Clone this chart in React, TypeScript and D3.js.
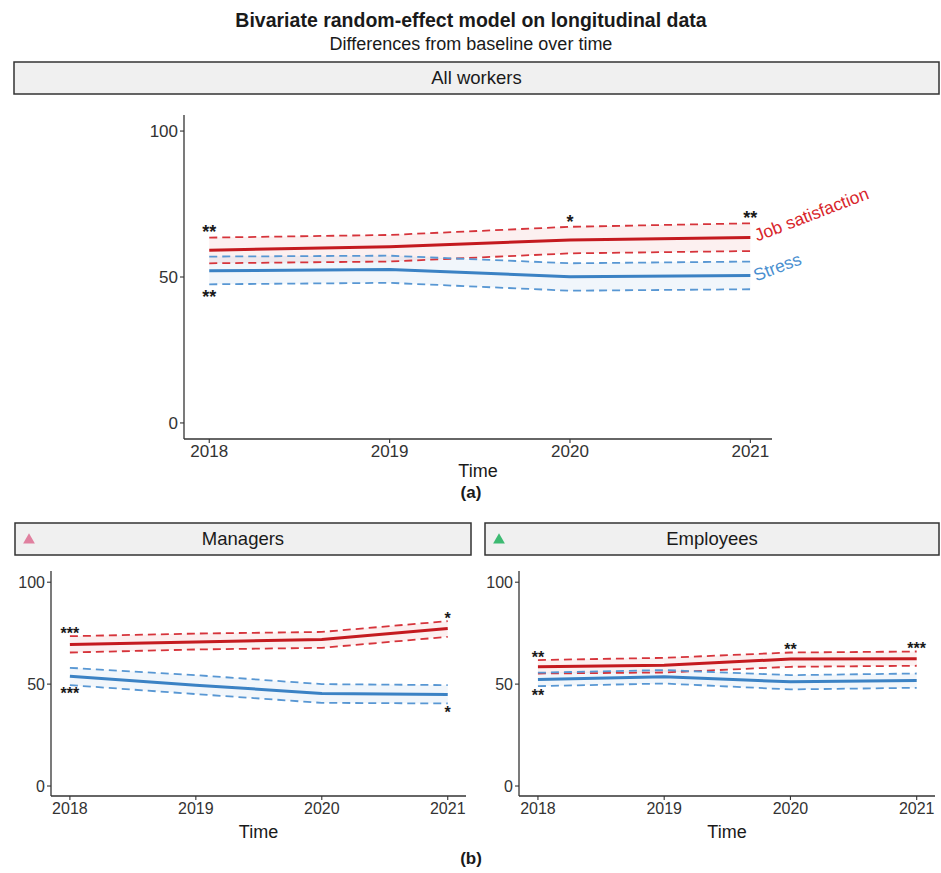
import React from "react";
import * as d3 from "d3";

const years = [2018, 2019, 2020, 2021];
const yTicks = [0, 50, 100];

// All workers
const allJob = [59.2, 60.4, 62.7, 63.5];
const allJobLo = [54.7, 55.3, 58.1, 58.9];
const allJobHi = [63.5, 64.4, 67.2, 68.4];
const allStress = [52.1, 52.6, 50.1, 50.5];
const allStressLo = [47.5, 48.0, 45.3, 45.8];
const allStressHi = [57.0, 57.3, 54.7, 55.3];
const allJobSig = ["**", "", "*", "**"];
const allStressSig = ["**", "", "", ""];

// Managers
const mgrJob = [69.4, 70.7, 71.9, 77.3];
const mgrJobLo = [65.5, 67.0, 67.8, 73.2];
const mgrJobHi = [73.5, 74.8, 75.6, 80.9];
const mgrStress = [53.9, 49.5, 45.4, 44.9];
const mgrStressLo = [49.5, 45.1, 40.8, 40.5];
const mgrStressHi = [58.0, 54.4, 50.0, 49.5];
const mgrJobSig = ["***", "", "", "*"];
const mgrStressSig = ["***", "", "", "*"];

// Employees
const empJob = [58.5, 59.3, 62.3, 62.4];
const empJobLo = [55.2, 55.7, 58.5, 59.0];
const empJobHi = [61.8, 62.9, 65.5, 66.0];
const empStress = [52.3, 53.6, 51.1, 51.8];
const empStressLo = [49.0, 50.3, 47.4, 48.2];
const empStressHi = [55.6, 56.9, 54.4, 55.2];
const empJobSig = ["**", "", "**", "***"];
const empStressSig = ["**", "", "", ""];

const FONT = "'Liberation Sans', Arial, Helvetica, sans-serif";
const RED = "#c41a1f";
const RED_D = "#d6343b";
const BLUE = "#3b82c4";
const BLUE_D = "#5897d3";
const TXT = "#1a1a1a";

type PanelProps = {
  left: number; right: number; top: number; bottom: number;
  xDomain: [number, number]; yDomain: [number, number];
  job: number[]; jobLo: number[]; jobHi: number[];
  stress: number[]; stressLo: number[]; stressHi: number[];
  jobSig: string[]; stressSig: string[];
  tickFont: number; starFont: number; starGapUp: number; starGapDown: number;
  titleY: number; showLabels?: boolean;
};

function Panel(p: PanelProps) {
  const x = d3.scaleLinear().domain(p.xDomain).range([p.left, p.right]);
  const y = d3.scaleLinear().domain(p.yDomain).range([p.bottom, p.top]);
  const line = (vals: number[]) =>
    d3.line<number>().x((_, i) => x(years[i])).y((v) => y(v))(vals) || "";
  const area = (lo: number[], hi: number[]) =>
    d3.area<number>().x((_, i) => x(years[i])).y0((_, i) => y(lo[i])).y1((_, i) => y(hi[i]))(years) || "";
  const starOff = p.starFont * 0.57;
  return (
    <g>
      <path d={area(p.jobLo, p.jobHi)} fill="rgba(215,40,45,0.07)" />
      <path d={area(p.stressLo, p.stressHi)} fill="rgba(60,130,200,0.07)" />
      {[p.jobLo, p.jobHi].map((v, i) => (
        <path key={"jd" + i} d={line(v)} fill="none" stroke={RED_D} strokeWidth={1.8} strokeDasharray="8,5" />
      ))}
      {[p.stressLo, p.stressHi].map((v, i) => (
        <path key={"sd" + i} d={line(v)} fill="none" stroke={BLUE_D} strokeWidth={1.8} strokeDasharray="8,5" />
      ))}
      <path d={line(p.stress)} fill="none" stroke={BLUE} strokeWidth={3} />
      <path d={line(p.job)} fill="none" stroke={RED} strokeWidth={3} />
      {p.jobSig.map((s, i) => s ? (
        <text key={"js" + i} x={x(years[i])} y={y(p.jobHi[i]) - p.starGapUp + starOff}
          textAnchor="middle" fontSize={p.starFont} fontWeight="bold" fontFamily={FONT} fill={TXT}>{s}</text>
      ) : null)}
      {p.stressSig.map((s, i) => s ? (
        <text key={"ss" + i} x={x(years[i])} y={y(p.stressLo[i]) + p.starGapDown + starOff}
          textAnchor="middle" fontSize={p.starFont} fontWeight="bold" fontFamily={FONT} fill={TXT}>{s}</text>
      ) : null)}
      {p.showLabels && (
        <g>
          <text transform={`translate(${x(2021) + 7},${y(p.job[3]) + 4}) rotate(-21)`}
            fontSize={17.5} fontFamily={FONT} fill="#d8262c">Job satisfaction</text>
          <text transform={`translate(${x(2021) + 6},${y(p.stress[3]) + 6}) rotate(-21)`}
            fontSize={17.5} fontFamily={FONT} fill="#4a8fd0">Stress</text>
        </g>
      )}
      {/* axes */}
      <line x1={p.left} x2={p.left} y1={p.top} y2={p.bottom} stroke="#333" strokeWidth={1.3} />
      <line x1={p.left} x2={p.right} y1={p.bottom} y2={p.bottom} stroke="#333" strokeWidth={1.3} />
      {yTicks.map((t) => (
        <g key={"yt" + t}>
          <line x1={p.left - 4} x2={p.left} y1={y(t)} y2={y(t)} stroke="#333" strokeWidth={1.1} />
          <text x={p.left - 6} y={y(t)} dy="0.35em" textAnchor="end" fontSize={p.tickFont} fontFamily={FONT} fill="#333">{t}</text>
        </g>
      ))}
      {years.map((t) => (
        <g key={"xt" + t}>
          <line x1={x(t)} x2={x(t)} y1={p.bottom} y2={p.bottom + 4} stroke="#333" strokeWidth={1.1} />
          <text x={x(t)} y={p.bottom + 6} dy="0.72em" textAnchor="middle" fontSize={p.tickFont} fontFamily={FONT} fill="#333">{t}</text>
        </g>
      ))}
      <text x={(p.left + p.right) / 2} y={p.titleY} textAnchor="middle" fontSize={18} fontFamily={FONT} fill={TXT}>Time</text>
    </g>
  );
}

function Strip({ x0, x1, y0, y1, label, marker }: { x0: number; x1: number; y0: number; y1: number; label: string; marker?: string }) {
  const tri = d3.symbol().type(d3.symbolTriangle).size(60)() || "";
  return (
    <g>
      <rect x={x0} y={y0} width={x1 - x0} height={y1 - y0} fill="#f0f0f0" stroke="#333" strokeWidth={1.5} />
      {marker && <path d={tri} transform={`translate(${x0 + 14},${(y0 + y1) / 2 + 1})`} fill={marker} />}
      <text x={(x0 + x1) / 2} y={(y0 + y1) / 2} dy="0.35em" textAnchor="middle" fontSize={18.5} fontFamily={FONT} fill={TXT}>{label}</text>
    </g>
  );
}

export default function App() {
  return (
    <svg width={941} height={873} style={{ position: "absolute", left: 0, top: 0, background: "#fff" }}>
      <rect width={941} height={873} fill="#fff" />
      <text x={471} y={27} textAnchor="middle" fontSize={19.5} fontWeight="bold" fontFamily={FONT} fill={TXT}>
        Bivariate random-effect model on longitudinal data
      </text>
      <text x={471} y={50} textAnchor="middle" fontSize={18} fontFamily={FONT} fill={TXT}>
        Differences from baseline over time
      </text>
      <Strip x0={14} x1={939} y0={62} y1={94} label="All workers" />
      <Panel left={184} right={772} top={115} bottom={439} xDomain={[2017.86, 2021.12]} yDomain={[-5.5, 105.5]}
        job={allJob} jobLo={allJobLo} jobHi={allJobHi} stress={allStress} stressLo={allStressLo} stressHi={allStressHi}
        jobSig={allJobSig} stressSig={allStressSig} tickFont={17} starFont={18} starGapUp={9.5} starGapDown={8.5}
        titleY={477} showLabels />
      <text x={471} y={498} textAnchor="middle" fontSize={17} fontWeight="bold" fontFamily={FONT} fill={TXT}>(a)</text>

      <Strip x0={15} x1={471} y0={523} y1={555} label="Managers" marker="#e0809f" />
      <Strip x0={485} x1={939} y0={523} y1={555} label="Employees" marker="#3dba72" />
      <Panel left={51} right={466} top={571} bottom={796} xDomain={[2017.85, 2021.145]} yDomain={[-4.9, 105.5]}
        job={mgrJob} jobLo={mgrJobLo} jobHi={mgrJobHi} stress={mgrStress} stressLo={mgrStressLo} stressHi={mgrStressHi}
        jobSig={mgrJobSig} stressSig={mgrStressSig} tickFont={16} starFont={16} starGapUp={6.5} starGapDown={5}
        titleY={838} />
      <Panel left={519} right={935} top={571} bottom={796} xDomain={[2017.85, 2021.145]} yDomain={[-4.9, 105.5]}
        job={empJob} jobLo={empJobLo} jobHi={empJobHi} stress={empStress} stressLo={empStressLo} stressHi={empStressHi}
        jobSig={empJobSig} stressSig={empStressSig} tickFont={16} starFont={16} starGapUp={6.5} starGapDown={5.5}
        titleY={838} />
      <text x={471} y={864} textAnchor="middle" fontSize={17} fontWeight="bold" fontFamily={FONT} fill={TXT}>(b)</text>
    </svg>
  );
}
